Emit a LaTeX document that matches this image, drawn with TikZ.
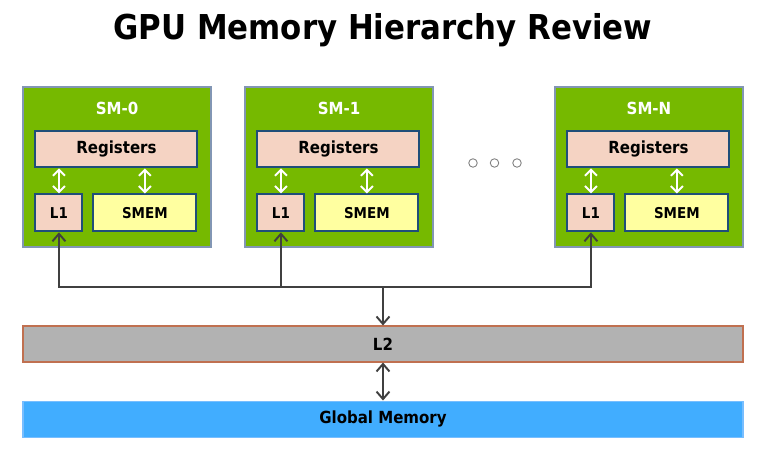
\documentclass[tikz,border=0pt]{standalone}
\usepackage{fontspec}
\setmainfont{DejaVu Sans Condensed}
\usetikzlibrary{positioning,arrows.meta}
\definecolor{smgreen}{RGB}{118,185,0}
\definecolor{smedge}{RGB}{130,150,180}
\definecolor{regfill}{RGB}{245,211,195}
\definecolor{boxedge}{RGB}{31,78,121}
\definecolor{smemfill}{RGB}{255,255,160}
\definecolor{ltwofill}{RGB}{178,178,178}
\definecolor{ltwoedge}{RGB}{192,112,80}
\definecolor{gmfill}{RGB}{65,173,255}
\definecolor{gmedge}{RGB}{120,190,255}
\definecolor{linkgray}{RGB}{64,64,64}
\tikzset{
  smbox/.style={draw=smedge, line width=0.6pt, fill=smgreen, minimum width=3.76cm, minimum height=3.2cm, inner sep=0pt},
  smtitle/.style={text=white, font=\fontsize{9.5}{11}\selectfont\bfseries, inner sep=0pt},
  regbox/.style={draw=boxedge, line width=1.1pt, fill=regfill, minimum width=3.24cm, minimum height=0.72cm, inner sep=0pt, font=\fontsize{9.5}{11}\selectfont\bfseries},
  lonebox/.style={draw=boxedge, line width=1.1pt, fill=regfill, minimum width=0.94cm, minimum height=0.74cm, inner sep=0pt, font=\fontsize{8.5}{10}\selectfont\bfseries},
  smembox/.style={draw=boxedge, line width=1.1pt, fill=smemfill, minimum width=2.06cm, minimum height=0.74cm, inner sep=0pt, font=\fontsize{8.5}{10}\selectfont\bfseries},
  wlink/.style={white, line width=1.1pt, {Straight Barb[length=1.2mm,width=2.4mm]}-{Straight Barb[length=1.2mm,width=2.4mm]}},
  link/.style={linkgray, line width=1.1pt, >={Straight Barb[length=1.5mm,width=2.6mm]}},
  dot/.style={circle, draw=gray, line width=0.5pt, minimum size=0.17cm, inner sep=0pt}
}
\begin{document}
\begin{tikzpicture}
\useasboundingbox (0,0) rectangle (15.32,9.04);

\node (T) at (7.66,8.44) [font=\fontsize{19.5}{23}\selectfont\bfseries] {GPU Memory Hierarchy Review};

% SM-0
\node (SM0) at (2.34,5.70) [smbox] {};
\node (N0) [smtitle, below=0.3cm of SM0.north] {SM-0};
\node (R0) [regbox, below right=0.88cm and 0.24cm of SM0.north west] {Registers};
\node (L10) [lonebox, below right=0.5cm and 0cm of R0.south west] {L1};
\node (S0) [smembox, right=0.18cm of L10] {SMEM};
\draw[wlink] (R0.south -| L10) -- (L10.north);
\draw[wlink] (R0.south -| S0) -- (S0.north);

% SM-1
\node (SM1) at (6.78,5.70) [smbox] {};
\node (N1) [smtitle, below=0.3cm of SM1.north] {SM-1};
\node (R1) [regbox, below right=0.88cm and 0.24cm of SM1.north west] {Registers};
\node (L11) [lonebox, below right=0.5cm and 0cm of R1.south west] {L1};
\node (S1) [smembox, right=0.18cm of L11] {SMEM};
\draw[wlink] (R1.south -| L11) -- (L11.north);
\draw[wlink] (R1.south -| S1) -- (S1.north);

% dots
\node (D1) at (9.46,5.78) [dot] {};
\node (D2) at (9.89,5.78) [dot] {};
\node (D3) at (10.34,5.78) [dot] {};

% SM-N
\node (SMN) at (12.98,5.70) [smbox] {};
\node (NN) [smtitle, below=0.3cm of SMN.north] {SM-N};
\node (RN) [regbox, below right=0.88cm and 0.24cm of SMN.north west] {Registers};
\node (L1N) [lonebox, below right=0.5cm and 0cm of RN.south west] {L1};
\node (SN) [smembox, right=0.18cm of L1N] {SMEM};
\draw[wlink] (RN.south -| L1N) -- (L1N.north);
\draw[wlink] (RN.south -| SN) -- (SN.north);

% L2 and global memory
\node (L2) at (7.66,2.16) [draw=ltwoedge, line width=0.6pt, fill=ltwofill, minimum width=14.4cm, minimum height=0.72cm, font=\fontsize{9.5}{11}\selectfont\bfseries] {L2};
\node (GM) [below=0.76cm of L2, draw=gmedge, line width=0.6pt, fill=gmfill, minimum width=14.4cm, minimum height=0.72cm, font=\fontsize{9.5}{11}\selectfont\bfseries] {Global Memory};

\coordinate (B) at (7.66,3.30);
\draw[link, <->] (L10.south) -- (L10.south |- B) -- (L1N.south |- B) -- (L1N.south);
\draw[link, ->] (L11.south |- B) -- (L11.south);
\draw[link, ->] (B) -- (L2.north);
\draw[link, <->] (L2) -- (GM);
\end{tikzpicture}
\end{document}
